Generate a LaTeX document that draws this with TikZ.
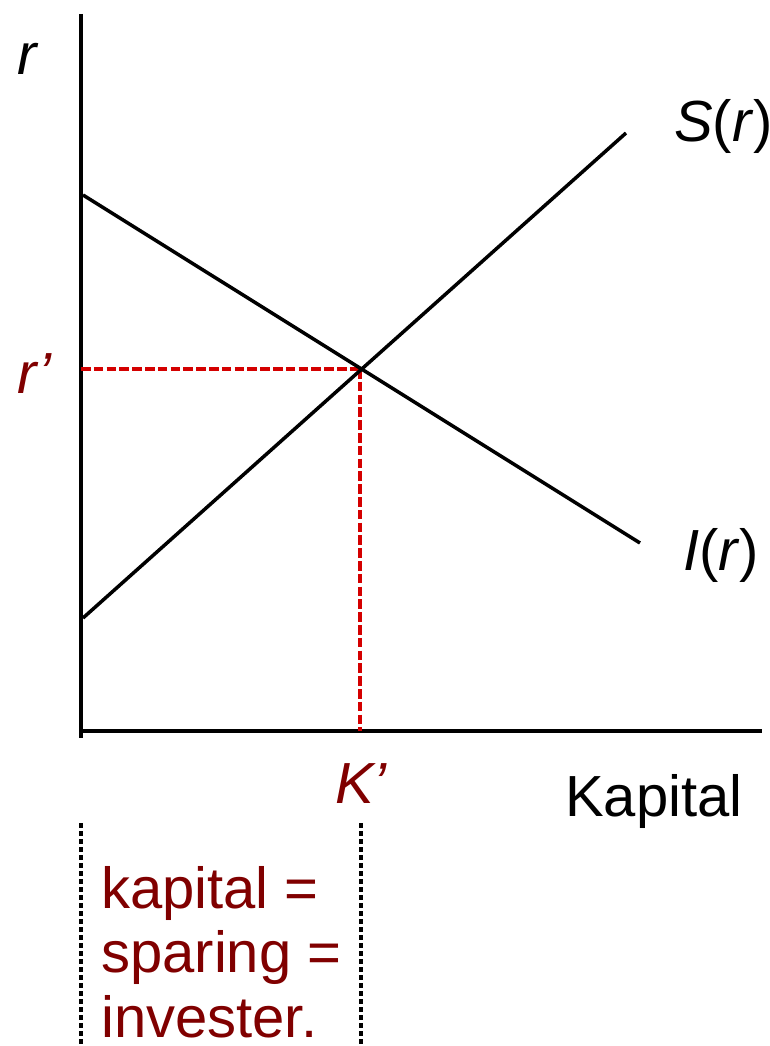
\documentclass[tikz,border=0pt]{standalone}
\usepackage{fontspec}
\setmainfont{Liberation Sans}
\definecolor{darkred}{HTML}{800000}
\definecolor{eqred}{HTML}{D40000}
\begin{document}
\begin{tikzpicture}[x=1pt,y=-1pt,
  axis/.style={line width=4pt,black},
  curve/.style={line width=3.5pt,black},
  guide/.style={line width=3.5pt,eqred,dash pattern=on 9.5pt off 3.3pt},
  bracket/.style={line width=3.2pt,black,dash pattern=on 5pt off 3pt},
  lbl/.style={inner sep=0pt,anchor=base west,font=\fontsize{58}{65}\selectfont},
  redlbl/.style={lbl,text=darkred}]
\useasboundingbox (0,0) rectangle (769,1046);
% axes
\coordinate (ytop) at (81,14);
\coordinate (ybot) at (81,738);
\coordinate (xl) at (81,731);
\coordinate (xr) at (762,731);
\draw[axis] (ytop) -- (ybot);
\draw[axis] (xl) -- (xr);
% curves
\coordinate (Is) at (83,195);
\coordinate (Ie) at (640,543);
\coordinate (Ss) at (83,618);
\coordinate (Se) at (626,133);
\coordinate (E) at (360,369);
\coordinate (Ey) at (81,369);
\coordinate (Ex) at (360,731);
\draw[guide] (Ey) -- (E);
\draw[guide] (E) -- (Ex);
\draw[curve] (Is) -- (Ie);
\draw[curve] (Ss) -- (Se);
% dotted brackets
\coordinate (b1t) at (81,823);
\coordinate (b1b) at (81,1046);
\coordinate (b2t) at (361,823);
\coordinate (b2b) at (361,1046);
\draw[bracket] (b1t) -- (b1b);
\draw[bracket] (b2t) -- (b2b);
% labels
\node[lbl] (rlab) at (17,75) {\itshape r};
\node[redlbl] (rp) at (17,393) {\itshape r’};
\node[lbl] (Slab) at (674,142) {\textit{S}(\textit{r})};
\node[lbl] (Ilab) at (683,570) {\textit{I}(\textit{r})};
\node[redlbl] (Kp) at (335,803) {\itshape K’};
\node[lbl] (kap) at (565,816) {Kapital};
\node[redlbl] (t1) at (101,908) {kapital =};
\node[redlbl] (t2) at (101,972) {sparing =};
\node[redlbl] (t3) at (101,1037) {invester.};
\end{tikzpicture}
\end{document}
